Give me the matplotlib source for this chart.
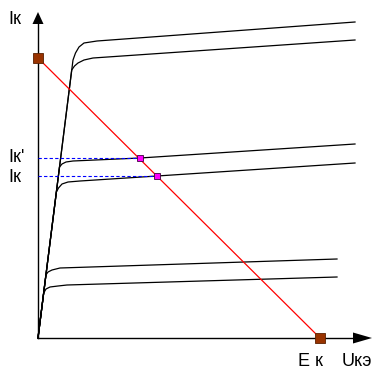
import matplotlib
matplotlib.use("Agg")
import matplotlib.pyplot as plt

plt.rcParams["font.family"] = ["Liberation Sans", "DejaVu Sans"]

# output characteristics I_k(U_ke), arbitrary units, origin at (0, 0)
CURVES = [
    ([0, 35.0, 37.5, 41, 46, 59, 317], [0, 278, 285, 291, 295, 297, 316]),
    ([0, 33.7, 36.5, 40, 46, 55, 317], [0, 268, 272, 275, 278, 280, 298]),
    ([0, 21.5, 24, 28, 35, 102, 317], [0, 171, 174, 176, 177, 180, 194]),
    ([0, 18.4, 20.5, 24, 30, 42, 119, 317], [0, 146, 150, 154, 156, 157, 162, 175]),
    ([0, 7.9, 10, 14, 22, 299], [0, 63, 66, 68, 70, 79]),
    ([0, 5.7, 8, 12, 20, 29, 299], [0, 45, 49, 51, 52, 53, 61]),
]
EK = 282          # supply voltage (load line end on U axis)
IK_SC = 280       # load line end on I axis
Q_U = [102, 119]  # operating points Ik', Ik
Q_I = [180, 162]
U_MAX, I_MAX = 334, 326

fig = plt.figure(figsize=(3.77, 3.72), dpi=100)
ax = fig.add_axes([0, 0, 1, 1])
ax.set_xlim(-38, 339)
ax.set_ylim(-34, 338)
ax.axis("off")

# axes with arrows
ax.plot([0, U_MAX - 14], [0, 0], color="black", lw=1)
ax.plot([0, 0], [0, I_MAX - 12], color="black", lw=1)
ax.fill([U_MAX - 19, U_MAX, U_MAX - 19], [5.5, 0, -5.5], color="black", lw=0)
ax.fill([-5.5, 0, 5.5], [I_MAX - 12, I_MAX, I_MAX - 12], color="black", lw=0)

for u, i in CURVES:
    ax.plot(u, i, color="black", lw=0.9)

# dashed projections of operating points
for u, i in zip(Q_U, Q_I):
    ax.plot([0, u], [i, i], color="blue", lw=0.8, ls=(0, (3, 2)))

# load line
ax.plot([0, EK], [IK_SC, 0], color="red", lw=0.9, zorder=3)
ax.plot([0, EK], [IK_SC, 0], ls="none", marker="s", markersize=6.5,
        markerfacecolor="#993300", markeredgecolor="#5a2000",
        markeredgewidth=0.6, zorder=4)
ax.plot(Q_U, Q_I, ls="none", marker="s", markersize=4.2,
        markerfacecolor="#ff00ff", markeredgecolor="#400040",
        markeredgewidth=0.6, zorder=4)

fs = 13
ax.text(-30, 319, "Iк", fontsize=fs, ha="left", va="center")
ax.text(-30, Q_I[0] + 0.5, "Iк'", fontsize=fs, ha="left", va="center")
ax.text(-30, Q_I[1] - 1.5, "Iк", fontsize=fs, ha="left", va="center")
ax.text(EK - 22, -24, "E к", fontsize=fs, ha="left", va="center")
ax.text(U_MAX - 30, -24, "Uкэ", fontsize=fs, ha="left", va="center")

fig.savefig("out.png", dpi=100)
